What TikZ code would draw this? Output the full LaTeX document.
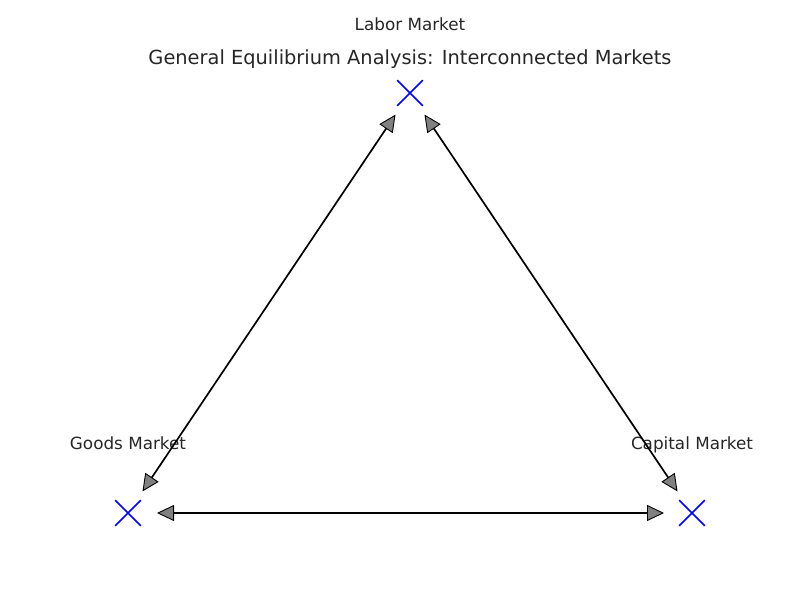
\documentclass[tikz,border=0pt]{standalone}
\usepackage{fontspec}
\setmainfont{DejaVu Sans}
\usepackage{xcolor}
\usetikzlibrary{shapes.misc}
\usetikzlibrary{positioning}
\usetikzlibrary{arrows.meta}

\begin{document}
\begin{tikzpicture}[x = 1pt, y = -1pt, font = \fontsize{16.8}{19}\selectfont,
                    marketCross/.style = {draw = blue, cross out, line width = 1.6pt, minimum size = 24pt, inner sep = 0pt},
                    marketLabel/.style = {inner sep = 0pt, text = black!85},
                    linkArrow/.style = {line width = 1.7pt, {Triangle[length = 17pt, width = 16pt, fill = gray, line width = 0.9pt]}-{Triangle[length = 17pt, width = 16pt, fill = gray, line width = 0.9pt]}}]
            \useasboundingbox (0,0) rectangle (800,600);

            \node [marketCross] (labor)   at (410,93)  {};
            \node [marketCross] (goods)   at (128,513) {};
            \node [marketCross] (capital) at (692,513) {};

            \node [marketLabel, above = 62.5pt of labor.center, anchor = base]   (laborLabel)   {Labor Market};
            \node [marketLabel, above = 63.5pt of goods.center, anchor = base]   (goodsLabel)   {Goods Market};
            \node [marketLabel, above = 63.5pt of capital.center, anchor = base] (capitalLabel) {Capital Market};

            \node [marketLabel, anchor = base, font = \fontsize{19.4}{22}\selectfont] (title) at (410,64) {General Equilibrium Analysis: Interconnected Markets};

            \draw [linkArrow, shorten < = 26pt, shorten > = 26pt] (labor.center) -- (goods.center);
            \draw [linkArrow, shorten < = 26pt, shorten > = 26pt] (labor.center) -- (capital.center);
            \draw [linkArrow, shorten < = 29pt, shorten > = 28pt] (goods.center) -- (capital.center);
\end{tikzpicture}
\end{document}
